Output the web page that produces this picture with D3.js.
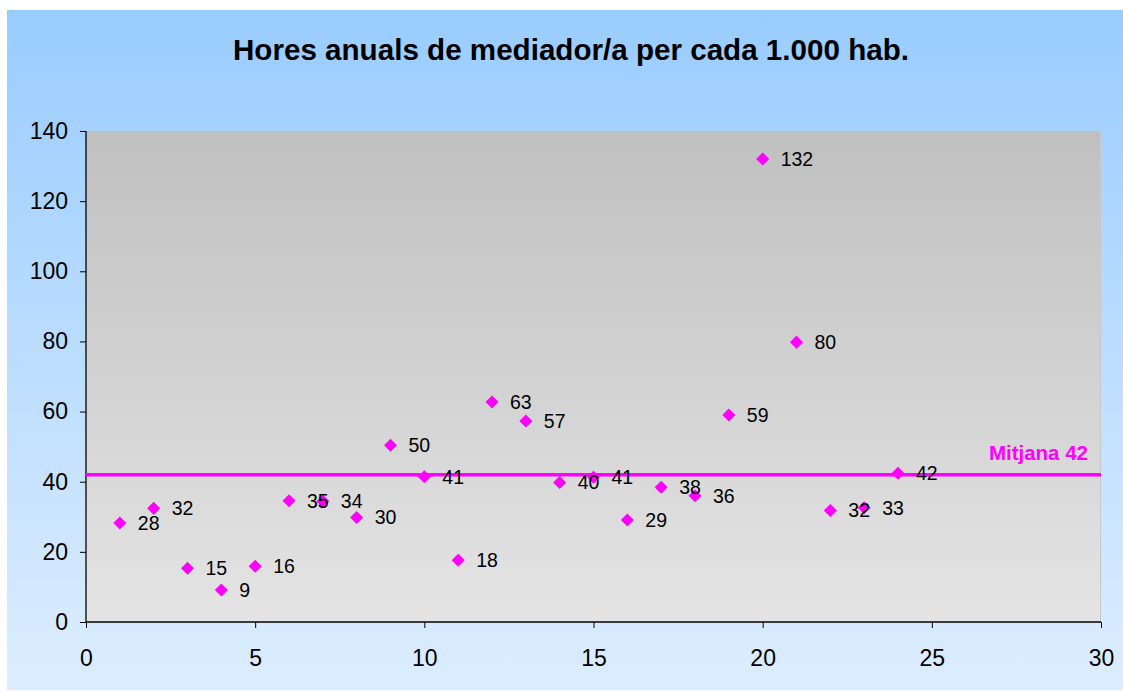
<!DOCTYPE html>
<html>
<head>
<meta charset="utf-8">
<script src="https://cdn.jsdelivr.net/npm/d3@7"></script>
<style>
  body { margin: 0; background: #fff; }
  text { font-family: "Liberation Sans", Arial, sans-serif; }
</style>
</head>
<body>
<div id="chart"></div>
<script>
// data
let municipis = [1, 2, 3, 4, 5, 6, 7, 8, 9, 10, 11, 12, 13, 14, 15, 16, 17, 18, 19, 20, 21, 22, 23, 24];
let hores = [28.2, 32.4, 15.3, 9.1, 15.9, 34.6, 34.4, 29.8, 50.4, 41.4, 17.6, 62.7, 57.3, 39.8, 41.3, 29.1, 38.4, 36.0, 59.0, 132.0, 79.8, 31.8, 32.6, 42.4];
let mitjana = 42;
let xTicks = [0, 5, 10, 15, 20, 25, 30];
let yTicks = [0, 20, 40, 60, 80, 100, 120, 140];

let W = 1123, H = 691;
let margin = {top: 131, right: 22, bottom: 68, left: 86},
    width = 1101 - margin.left,
    height = 622 - margin.top;

let svg = d3.select("#chart")
  .append("svg")
    .attr("width", W)
    .attr("height", H);

let defs = svg.append("defs");

let bgGrad = defs.append("linearGradient")
  .attr("id", "bgGrad")
  .attr("x1", 0).attr("y1", 0).attr("x2", 0).attr("y2", 1);
bgGrad.append("stop").attr("offset", "0%").attr("stop-color", "#99ccff");
bgGrad.append("stop").attr("offset", "100%").attr("stop-color", "#ddedff");

let plotGrad = defs.append("linearGradient")
  .attr("id", "plotGrad")
  .attr("x1", 0).attr("y1", 0).attr("x2", 0).attr("y2", 1);
plotGrad.append("stop").attr("offset", "0%").attr("stop-color", "#c0c0c0");
plotGrad.append("stop").attr("offset", "100%").attr("stop-color", "#e4e4e4");

// outer panel
svg.append("rect")
  .attr("x", 7)
  .attr("y", 10)
  .attr("width", W - 7)
  .attr("height", 680)
  .style("fill", "url(#bgGrad)");

// title
svg.append("text")
  .attr("x", 571)
  .attr("y", 60)
  .attr("text-anchor", "middle")
  .style("font-size", "29.6px")
  .style("font-weight", "bold")
  .text("Hores anuals de mediador/a per cada 1.000 hab.");

let chart = svg.append("g")
  .attr("transform", "translate(" + margin.left + "," + margin.top + ")");

chart.append("rect")
  .attr("width", width)
  .attr("height", height)
  .style("fill", "url(#plotGrad)");

chart.append("line")
  .attr("x1", width - 0.5).attr("x2", width - 0.5)
  .attr("y1", 0).attr("y2", height)
  .style("stroke", "#c8c8c8");

let x = d3.scaleLinear()
  .domain([0, 30])
  .range([0, width]);

let y = d3.scaleLinear()
  .domain([0, 140])
  .range([height, 0]);

let xAxis = d3.axisBottom(x)
  .tickValues(xTicks)
  .tickSize(6)
  .tickPadding(22);

let yAxis = d3.axisLeft(y)
  .tickValues(yTicks)
  .tickSize(6)
  .tickPadding(12);

let gx = chart.append("g")
  .attr("transform", "translate(0," + height + ")")
  .call(xAxis);

let gy = chart.append("g")
  .call(yAxis);

[gx, gy].forEach(function(g) {
  g.select(".domain").style("stroke", "#000").attr("stroke-width", 1.3);
  g.selectAll(".tick line").style("stroke", "#000");
  g.selectAll("text")
    .style("font-size", "23px")
    .style("fill", "#000")
    .style("font-family", "'Liberation Sans', Arial, sans-serif");
});
gx.select(".domain").attr("d", "M0,0H" + width);
gy.select(".domain").attr("d", "M0," + height + "V0");

// mean line
chart.append("line")
  .attr("x1", 0)
  .attr("x2", width)
  .attr("y1", y(mitjana))
  .attr("y2", y(mitjana))
  .style("stroke", "#ff00ff")
  .attr("stroke-width", 3.5);

chart.append("text")
  .attr("x", width - 13)
  .attr("y", y(mitjana) - 15)
  .attr("text-anchor", "end")
  .style("font-size", "20.5px")
  .style("font-weight", "bold")
  .style("fill", "#ff00ff")
  .text("Mitjana " + mitjana);

let punts = municipis.map(function(m, i) { return {x: m, v: hores[i]}; });

// markers
let diamond = d3.symbol().type(d3.symbolSquare).size(85);

chart.selectAll("punts")
  .data(punts)
  .enter()
  .append("path")
    .attr("d", diamond)
    .attr("transform", function(d) {
      return "translate(" + x(d.x) + "," + y(d.v) + ") rotate(45)";
    })
    .style("fill", "#ff00ff");

// labels
chart.selectAll("etiquetes")
  .data(punts)
  .enter()
  .append("text")
    .attr("x", function(d) { return x(d.x) + 18; })
    .attr("y", function(d) { return y(d.v) + 7; })
    .style("font-size", "19.5px")
    .style("fill", "#000")
    .text(function(d) { return Math.round(d.v); });
</script>
</body>
</html>
